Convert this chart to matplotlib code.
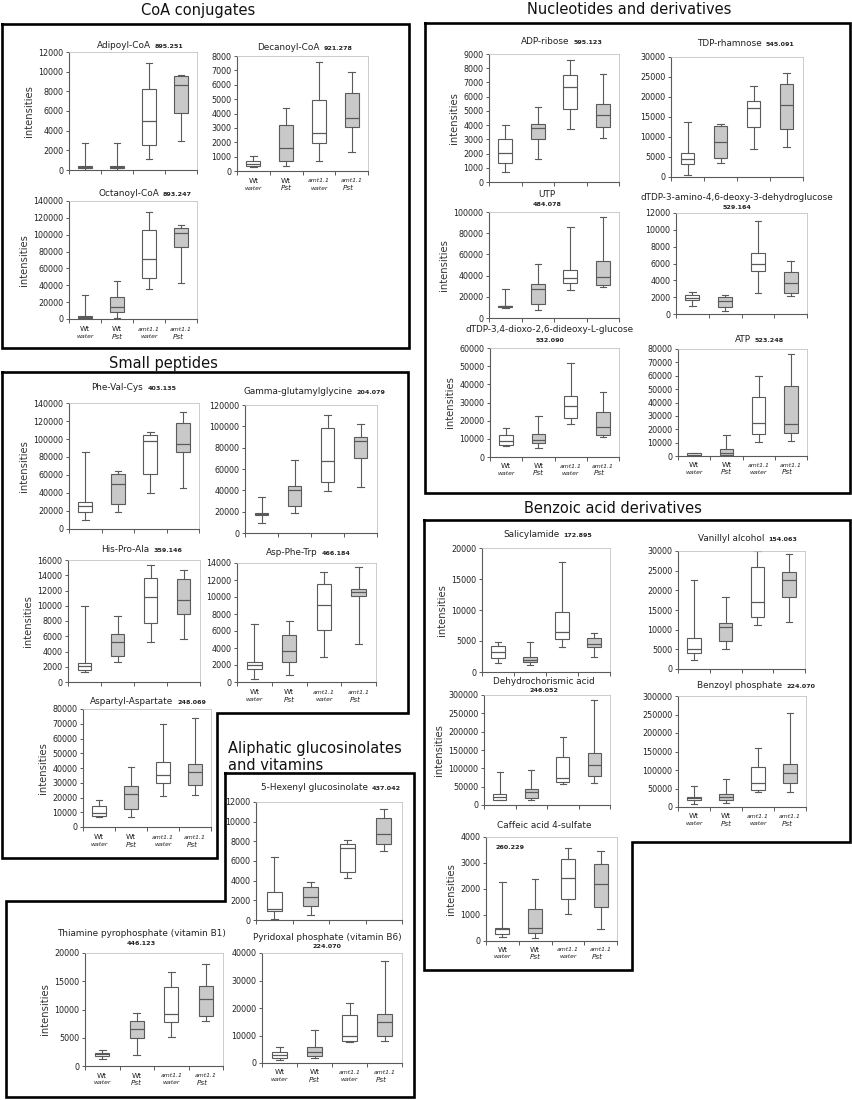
import matplotlib
matplotlib.use("Agg")
import matplotlib.pyplot as plt
from matplotlib.lines import Line2D
import numpy as np

W, H = 852, 1100

GROUPS = [("Wt", "water"), ("Wt", "Pst"), ("amt1.1", "water"), ("amt1.1", "Pst")]
FILLS = ["white", "#c9c9c9", "white", "#c9c9c9"]
EDGE = "#5a5a5a"

# rows: whisker low, q1, median, q3, whisker high
# order: Wt water, Wt Pst, amt1.1 water, amt1.1 Pst
adipoyl_coa = [[50, 250, 350, 450, 2750], [50, 250, 350, 450, 2750],
               [1100, 2550, 4950, 8200, 10900], [3000, 5800, 8600, 9600, 9650]]
decanoyl_coa = [[250, 320, 500, 700, 1020], [380, 720, 1620, 3180, 4350],
                [730, 1950, 2620, 4920, 7600], [1350, 3080, 3700, 5450, 6900]]
octanoyl_coa = [[0, 1500, 2500, 4000, 29000], [1000, 8500, 14000, 26000, 45000],
                [36000, 49000, 71000, 106000, 127000], [43000, 86000, 101500, 107500, 111000]]

adp_ribose = [[700, 1350, 2050, 3050, 4000], [1650, 3050, 3800, 4100, 5250],
              [3700, 5100, 6700, 7550, 8550], [3100, 3900, 4700, 5500, 7600]]
tdp_rhamnose = [[600, 3300, 4500, 6000, 13800], [3500, 4700, 8800, 12700, 13200],
                [7100, 12600, 17300, 18900, 22800], [7600, 11900, 17900, 23200, 25900]]
utp = [[9500, 10000, 11000, 11500, 27500], [8000, 13500, 27000, 32500, 51000],
       [26000, 33000, 38000, 45500, 86000], [29000, 31500, 38500, 53500, 95000]]
dtdp_amino = [[1000, 1650, 1950, 2250, 2600], [350, 850, 1550, 2050, 2250],
              [2500, 5050, 6000, 7200, 11000], [2100, 2550, 3700, 4950, 6300]]
dtdp_dioxo = [[5800, 6500, 9000, 12000, 16000], [5200, 7500, 9500, 12800, 22300],
              [18000, 21500, 28200, 33500, 51500], [11000, 12000, 16500, 24800, 35800]]
atp = [[500, 600, 1000, 2200, 2500], [500, 1000, 2500, 5500, 16000],
       [10800, 16500, 24500, 44000, 59500], [11500, 17000, 23800, 52500, 76500]]

phe_val_cys = [[9500, 19000, 25500, 29500, 86000], [18500, 27500, 50500, 61000, 64500],
               [40000, 61500, 98000, 104000, 107500], [45500, 86000, 95000, 118000, 130000]]
gamma_glu_gly = [[9000, 17000, 18000, 19000, 34000], [19000, 25000, 40500, 44000, 68500],
                 [39000, 47500, 67500, 98000, 110500], [43000, 70000, 86500, 90000, 102500]]
his_pro_ala = [[1300, 1600, 2100, 2500, 10000], [2600, 3400, 5300, 6300, 8700],
               [5200, 7800, 11200, 13600, 15300], [5700, 8900, 10700, 13500, 14700]]
asp_phe_trp = [[400, 1500, 1950, 2400, 6800], [800, 2400, 3650, 5500, 7200],
               [2900, 6100, 9100, 11500, 12900], [4500, 10100, 10550, 11000, 13500]]
aspartyl_asp = [[7000, 7500, 9500, 14000, 18000], [7000, 12000, 22500, 27500, 41000],
                [21000, 30000, 35000, 44000, 70000], [21500, 28500, 37000, 43000, 74000]]

hexenyl_gsl = [[100, 900, 1100, 2850, 6400], [500, 1450, 2350, 3350, 3900],
               [4300, 4850, 7300, 7700, 8150], [7050, 7700, 8700, 10400, 11300]]
thiamine_pp = [[1300, 1800, 2100, 2300, 2800], [2000, 4900, 6500, 7900, 9400],
               [5100, 7700, 9200, 14000, 16600], [7900, 8800, 11800, 14200, 18100]]
pyridoxal_p = [[1200, 1700, 3000, 4000, 5800], [1800, 2500, 4000, 5800, 12000],
               [7500, 8000, 10000, 17500, 22000], [8000, 10000, 15000, 18000, 37000]]

salicylamide = [[1500, 2200, 3300, 4200, 4800], [1200, 1650, 2000, 2500, 4800],
                [4100, 5400, 6500, 9700, 17700], [2400, 4100, 4500, 5500, 6300]]
vanillyl_alc = [[2300, 4100, 5200, 8000, 22600], [5100, 7000, 10800, 11800, 18200],
                [11200, 13300, 17100, 26000, 30000], [11900, 18300, 22600, 24600, 29300]]
dehydrochorismic = [[13000, 15000, 22000, 31000, 89000], [13000, 20000, 36000, 45000, 95000],
                    [57000, 63000, 75000, 132000, 186000], [60000, 78000, 110000, 143000, 286000]]
benzoyl_p = [[8000, 20000, 23000, 28000, 56000], [10000, 20000, 28000, 35000, 76000],
             [41000, 45000, 66000, 107000, 160000], [40000, 65000, 92000, 116000, 253000]]
caffeic_sulf = [[150, 260, 450, 500, 2280], [130, 300, 500, 1250, 2380],
                [1030, 1610, 2430, 3140, 3590], [480, 1300, 2200, 2970, 3450]]

fig = plt.figure(figsize=(W / 100, H / 100), dpi=100)
renderer = fig.canvas.get_renderer()


def fx(x):
    return x / W


def fy(y):
    return 1 - y / H


def title(cx, cy, name, mass, mass_y=None):
    t1 = fig.text(0, 0, name, fontsize=6.4, ha="left", va="baseline", color="#222222")
    t2 = fig.text(0, 0, mass, fontsize=4.6, fontweight="bold", ha="left", va="baseline",
                  color="#222222")
    w1 = t1.get_window_extent(renderer).width
    w2 = t2.get_window_extent(renderer).width
    if mass_y is None:
        x0 = cx - (w1 + 4 + w2) / 2
        t1.set_position((fx(x0), fy(cy + 2.5)))
        t2.set_position((fx(x0 + w1 + 4), fy(cy + 2.5)))
    else:
        t1.set_position((fx(cx - w1 / 2), fy(cy + 2.5)))
        t2.set_position((fx(cx - w2 / 2), fy(mass_y + 2)))


def panel(data, box, ymax, ystep, ylabel=False, xlabels=False):
    l, t, r, b = box
    ax = fig.add_axes([fx(l), fy(b), (r - l) / W, (b - t) / H])
    stats = [dict(whislo=d[0], q1=d[1], med=d[2], q3=d[3], whishi=d[4], fliers=[])
             for d in data]
    bp = ax.bxp(stats, positions=[1, 2, 3, 4], widths=0.42, capwidths=0.2,
                patch_artist=True, showfliers=False,
                boxprops=dict(edgecolor=EDGE, linewidth=0.8),
                whiskerprops=dict(color=EDGE, linewidth=0.8),
                capprops=dict(color=EDGE, linewidth=0.8),
                medianprops=dict(color=EDGE, linewidth=0.9))
    for patch, c in zip(bp["boxes"], FILLS):
        patch.set_facecolor(c)
    ax.set_xlim(0.5, 4.5)
    ax.set_ylim(0, ymax)
    ax.set_yticks(np.arange(0, ymax + 1, ystep))
    ax.set_xticks([0.5, 1.5, 2.5, 3.5, 4.5])
    ax.set_xticklabels([])
    ax.tick_params(axis="y", labelsize=5.8, length=2.5, width=0.7, color=EDGE,
                   labelcolor="#222222", pad=1.5)
    ax.tick_params(axis="x", length=3, width=0.7, color=EDGE)
    for s in ["left", "bottom"]:
        ax.spines[s].set_color(EDGE)
        ax.spines[s].set_linewidth(0.8)
    for s in ["top", "right"]:
        ax.spines[s].set_color("#c4c4c4")
        ax.spines[s].set_linewidth(0.6)
    if ylabel:
        ax.set_ylabel("intensities", fontsize=7.2, color="#333333", labelpad=3)
    if xlabels:
        for i, (g, c) in enumerate(GROUPS):
            x = i + 1
            if g == "Wt":
                ax.text(x, -ymax * 0.085, g, fontsize=5.3, ha="center", va="center",
                        color="#222222")
            else:
                ax.text(x, -ymax * 0.085, g, fontsize=4.4, style="italic", ha="center",
                        va="center", color="#222222")
            if c == "water":
                ax.text(x, -ymax * 0.15, c, fontsize=4.4, style="italic", ha="center",
                        va="center", color="#222222")
            else:
                ax.text(x - (0.1 if g != "Wt" else 0), -ymax * 0.15, c, fontsize=5.2,
                        style="italic", ha="center", va="center", color="#222222")
    return ax


def border(pts):
    xs = [fx(p[0]) for p in pts] + [fx(pts[0][0])]
    ys = [fy(p[1]) for p in pts] + [fy(pts[0][1])]
    fig.add_artist(Line2D(xs, ys, color="black", linewidth=1.9,
                          solid_joinstyle="miter", transform=fig.transFigure))


def heading(x, y, s, ha="center"):
    fig.text(fx(x), fy(y), s, fontsize=10.5, ha=ha, va="center", color="#111111")


# section headings and frames
heading(198, 11, "CoA conjugates")
heading(629, 10, "Nucleotides and derivatives")
heading(163, 363, "Small peptides")
heading(228, 748, "Aliphatic glucosinolates", ha="left")
heading(228, 766, "and vitamins", ha="left")
heading(613, 509, "Benzoic acid derivatives")

border([(2, 24), (409, 24), (409, 348), (2, 348)])
border([(425, 23), (850, 23), (850, 493), (425, 493)])
border([(2, 372), (408, 372), (408, 713), (217, 713), (217, 858), (2, 858)])
border([(225, 773), (414, 773), (414, 1097), (6, 1097), (6, 901), (225, 901)])
border([(424, 520), (850, 520), (850, 842), (632, 842), (632, 970), (424, 970)])

# CoA conjugates
panel(adipoyl_coa, (69, 52, 197, 170), 12000, 2000, ylabel=True)
title(140, 46, "Adipoyl-CoA", "895.251")
panel(decanoyl_coa, (237, 56, 368, 171), 8000, 1000, xlabels=True)
title(305, 47, "Decanoyl-CoA", "921.278")
panel(octanoyl_coa, (69, 201, 197, 319), 140000, 20000, ylabel=True, xlabels=True)
title(145, 193, "Octanoyl-CoA", "893.247")

# nucleotides
panel(adp_ribose, (489, 54, 619, 182), 9000, 1000, ylabel=True)
title(562, 42, "ADP-ribose", "595.123")
panel(tdp_rhamnose, (671, 57, 803, 177), 30000, 5000)
title(746, 43, "TDP-rhamnose", "545.091")
panel(utp, (489, 212, 619, 318), 100000, 20000, ylabel=True)
title(547, 194, "UTP", "484.078", mass_y=204)
panel(dtdp_amino, (676, 213, 807, 314), 12000, 2000)
title(737, 198, "dTDP-3-amino-4,6-deoxy-3-dehydroglucose", "529.164", mass_y=207)
panel(dtdp_dioxo, (490, 348, 619, 457), 60000, 10000, ylabel=True, xlabels=True)
title(550, 330, "dTDP-3,4-dioxo-2,6-dideoxy-L-glucose", "532.090", mass_y=340)
panel(atp, (678, 349, 807, 456), 80000, 10000, xlabels=True)
title(759, 339, "ATP", "523.248")

# small peptides
panel(phe_val_cys, (69, 403, 199, 529), 140000, 20000, ylabel=True)
title(134, 388, "Phe-Val-Cys", "403.135")
panel(gamma_glu_gly, (245, 405, 377, 533), 120000, 20000)
title(314, 392, "Gamma-glutamylglycine", "204.079")
panel(his_pro_ala, (68, 560, 200, 682), 16000, 2000, ylabel=True)
title(142, 549, "His-Pro-Ala", "359.146")
panel(asp_phe_trp, (237, 563, 376, 682), 14000, 2000, xlabels=True)
title(308, 552, "Asp-Phe-Trp", "466.184")
panel(aspartyl_asp, (83, 709, 211, 827), 80000, 10000, ylabel=True, xlabels=True)
title(148, 701, "Aspartyl-Aspartate", "248.069")

# aliphatic glucosinolates and vitamins
panel(hexenyl_gsl, (256, 802, 402, 920), 12000, 2000)
title(331, 788, "5-Hexenyl glucosinolate", "437.042")
panel(thiamine_pp, (85, 953, 223, 1066), 20000, 5000, ylabel=True, xlabels=True)
title(141, 933, "Thiamine pyrophosphate (vitamin B1)", "446.123", mass_y=943)
panel(pyridoxal_p, (262, 953, 402, 1063), 40000, 10000, xlabels=True)
title(327, 938, "Pyridoxal phosphate (vitamin B6)", "224.070", mass_y=946)

# benzoic acid derivatives
panel(salicylamide, (482, 548, 610, 672), 20000, 5000, ylabel=True)
title(548, 534, "Salicylamide", "172.895")
panel(vanillyl_alc, (678, 551, 805, 669), 30000, 5000)
title(748, 538, "Vanillyl alcohol", "154.063")
panel(dehydrochorismic, (484, 695, 610, 805), 300000, 50000, ylabel=True)
title(544, 682, "Dehydrochorismic acid", "246.052", mass_y=690)
panel(benzoyl_p, (678, 696, 806, 807), 300000, 50000, xlabels=True)
title(756, 685, "Benzoyl phosphate", "224.070")
ax = panel(caffeic_sulf, (486, 837, 617, 941), 4000, 1000, ylabel=True, xlabels=True)
fig.text(fx(544), fy(825), "Caffeic acid 4-sulfate", fontsize=6.4, ha="center",
         va="center", color="#222222")
ax.text(0.07, 0.9, "260.229", transform=ax.transAxes, fontsize=4.6, fontweight="bold",
        ha="left", va="center", color="#222222")

fig.savefig("out.png", dpi=100, facecolor="white")
